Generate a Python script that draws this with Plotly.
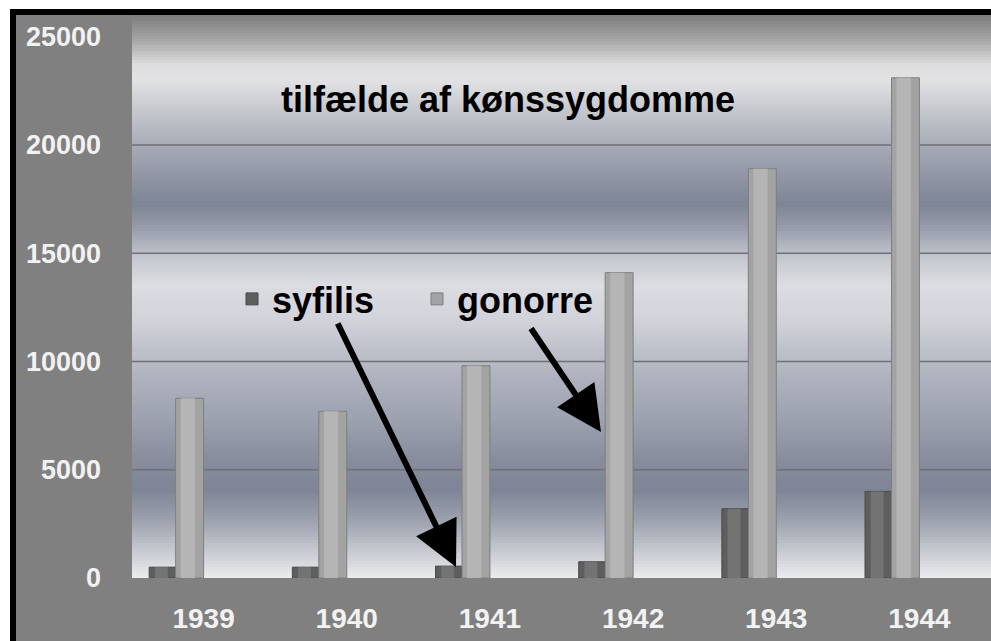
import plotly.graph_objects as go

years = ["1939", "1940", "1941", "1942", "1943", "1944"]
syfilis = [500, 500, 550, 750, 3200, 4000]
gonorre = [8300, 7700, 9800, 14100, 18900, 23100]
title_text = "tilfælde af kønssygdomme"
y_ticks = [0, 5000, 10000, 15000, 20000, 25000]
y_ticktext = ["0", "5000", "10000", "15000", "20000", "25000"]
grid_levels = [5000, 10000, 15000, 20000]

W, H = 991, 641
# plot area in window pixels
L, R, T, B = 132, 991, 15, 578


def px(X):
    return (X - L) / (R - L)


def py(Y):
    return (B - Y) / (B - T)


FONT = "Liberation Sans, Arial, sans-serif"

fig = go.Figure()

fig.add_trace(go.Bar(x=years, y=syfilis, name="syfilis", offset=-0.38, width=0.185,
                     marker=dict(color="#5e5e5e", line=dict(color="#4a4a4a", width=1))))
fig.add_trace(go.Bar(x=years, y=syfilis, showlegend=False, offset=-0.34, width=0.09,
                     marker=dict(color="#737373", line=dict(width=0)), hoverinfo="skip"))
fig.add_trace(go.Bar(x=years, y=gonorre, name="gonorre", offset=-0.195, width=0.195,
                     marker=dict(color="#a3a3a3", line=dict(color="#7e7e7e", width=1))))
fig.add_trace(go.Bar(x=years, y=gonorre, showlegend=False, offset=-0.16, width=0.1,
                     marker=dict(color="#b5b5b5", line=dict(width=0)), hoverinfo="skip"))

stops = [
    (15, (0x7c, 0x7c, 0x7c)), (40, (0xa6, 0xa6, 0xa6)), (65, (0xde, 0xde, 0xde)),
    (80, (0xe2, 0xe2, 0xe4)), (110, (0xc6, 0xc8, 0xce)), (145, (0xa8, 0xac, 0xb8)),
    (185, (0x8a, 0x90, 0xa0)), (205, (0x7e, 0x85, 0x96)), (230, (0x9a, 0x9f, 0xae)),
    (260, (0xc8, 0xca, 0xd2)), (285, (0xdc, 0xdd, 0xe2)), (320, (0xd2, 0xd3, 0xda)),
    (350, (0xbf, 0xc1, 0xca)), (380, (0xae, 0xb1, 0xbd)), (420, (0x9c, 0xa1, 0xaf)),
    (460, (0x87, 0x8d, 0x9d)), (490, (0x7e, 0x85, 0x96)), (520, (0x9c, 0xa1, 0xae)),
    (550, (0xc6, 0xc8, 0xd0)), (578, (0xec, 0xec, 0xee)),
]


def col_at(Y):
    for (y0, c0), (y1, c1) in zip(stops[:-1], stops[1:]):
        if y0 <= Y <= y1:
            t = (Y - y0) / (y1 - y0)
            c = [round(a + (b - a) * t) for a, b in zip(c0, c1)]
            return "rgb(%d,%d,%d)" % tuple(c)
    return "rgb(236,236,238)"


shapes = []
step = 3
Y = T
while Y < B:
    y2 = min(Y + step, B)
    shapes.append(dict(type="rect", xref="paper", yref="paper", x0=0, x1=1,
                       y0=py(y2), y1=py(Y), fillcolor=col_at(Y + step / 2),
                       line=dict(width=0), layer="below"))
    Y = y2

for g in grid_levels:
    shapes.append(dict(type="line", xref="paper", yref="y", x0=0, x1=1, y0=g, y1=g,
                       line=dict(color="#6f7078", width=1.5), layer="below"))

shapes += [
    dict(type="rect", xref="paper", yref="paper", x0=px(-5), x1=px(10), y0=py(H + 20), y1=py(-5),
         fillcolor="white", line=dict(width=0), layer="below"),
    dict(type="rect", xref="paper", yref="paper", x0=px(-5), x1=px(W + 20), y0=py(9), y1=py(-5),
         fillcolor="white", line=dict(width=0), layer="below"),
    dict(type="rect", xref="paper", yref="paper", x0=px(10), x1=px(16), y0=py(H + 20), y1=py(9),
         fillcolor="black", line=dict(width=0), layer="below"),
    dict(type="rect", xref="paper", yref="paper", x0=px(10), x1=px(W + 20), y0=py(15), y1=py(9),
         fillcolor="black", line=dict(width=0), layer="below"),
]

annotations = [
    dict(text=title_text, xref="paper", yref="paper", x=px(508), y=py(99),
         xanchor="center", yanchor="middle",
         showarrow=False, font=dict(family=FONT, size=36, color="black", weight="bold")),
    dict(text="", xref="paper", yref="paper", x=px(456), y=py(567),
         ax=337 - 456, ay=322 - 567, showarrow=True, arrowhead=2, arrowsize=1.5,
         arrowwidth=6, arrowcolor="black", standoff=0),
    dict(text="", xref="paper", yref="paper", x=px(601), y=py(432),
         ax=530 - 601, ay=327 - 432, showarrow=True, arrowhead=2, arrowsize=1.5,
         arrowwidth=6, arrowcolor="black", standoff=0),
]

fig.update_layout(
    width=W, height=H,
    margin=dict(l=L, r=W - R, t=T, b=H - B, pad=0),
    paper_bgcolor="#808080",
    plot_bgcolor="#d0d2d8",
    barmode="overlay",
    shapes=shapes,
    annotations=annotations,
    showlegend=True,
    legend=dict(orientation="h", x=px(232), y=py(299), xanchor="left", yanchor="middle",
                bgcolor="rgba(0,0,0,0)", font=dict(family=FONT, size=36, color="black", weight="bold"),
                traceorder="normal", entrywidth=140),
    xaxis=dict(type="category", range=[-0.5, 5.5], showgrid=False, zeroline=False,
               showline=False, ticks="", ticklabelstandoff=21,
               tickfont=dict(family=FONT, size=28, color="#f2f2f2", weight="bold")),
    yaxis=dict(range=[0, 26000], tickvals=y_ticks, ticktext=y_ticktext, showgrid=False,
               zeroline=False, showline=False, ticks="", ticklabelstandoff=30,
               tickfont=dict(family=FONT, size=27, color="#f2f2f2", weight="bold")),
)

fig.write_html("out.html", config={"displayModeBar": False},
               post_script="document.body.style.margin='0';"
                           "document.body.style.overflow='hidden';"
                           "document.documentElement.style.overflow='hidden';")
